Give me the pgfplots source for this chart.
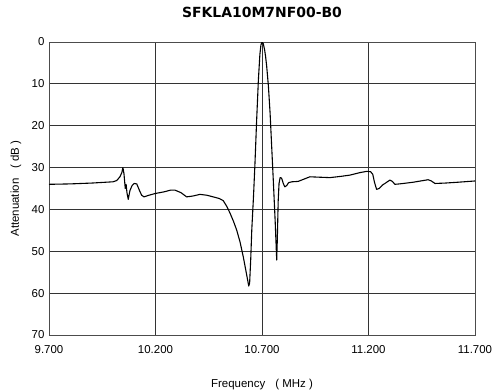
\documentclass[border=0pt]{standalone}
\usepackage{pgfplots}
\pgfplotsset{compat=1.18}
\usepackage{fontspec}
\setmainfont{Liberation Sans}
\newfontfamily\titlefont{DejaVu Sans}

\pgfplotstableread{
f A
9.700 34.0
9.800 33.9
9.900 33.7
10.000 33.4
10.018 33.1
10.033 32.2
10.042 31.2
10.047 30.0
10.052 31.5
10.058 35.0
10.062 34.0
10.066 36.0
10.072 37.6
10.080 35.5
10.090 34.3
10.100 33.8
10.112 33.9
10.125 35.5
10.135 36.6
10.146 37.0
10.170 36.6
10.198 36.2
10.240 35.8
10.270 35.4
10.292 35.4
10.320 36.0
10.346 37.0
10.375 36.8
10.409 36.4
10.440 36.6
10.471 37.0
10.500 37.4
10.518 37.9
10.535 39.3
10.550 40.9
10.565 42.7
10.581 44.9
10.597 47.8
10.612 51.3
10.625 54.8
10.633 57.0
10.638 58.3
10.642 57.5
10.647 52.0
10.652 44.9
10.660 37.0
10.667 29.0
10.675 18.5
10.683 9.1
10.690 3.0
10.695 0.7
10.700 0.0
10.706 0.4
10.712 1.8
10.717 3.5
10.722 5.8
10.730 10.5
10.738 17.0
10.745 24.5
10.753 33.0
10.762 43.0
10.769 52.1
10.772 47.0
10.776 38.0
10.780 33.8
10.785 32.4
10.792 32.5
10.800 33.8
10.807 34.6
10.816 34.3
10.825 33.6
10.840 33.4
10.870 33.3
10.900 32.7
10.925 32.2
10.970 32.3
11.019 32.4
11.070 32.1
11.113 31.8
11.160 31.2
11.192 30.9
11.210 31.0
11.220 31.6
11.228 33.5
11.238 35.2
11.250 35.0
11.265 34.2
11.280 33.7
11.300 33.0
11.312 33.3
11.324 34.0
11.345 33.9
11.363 33.8
11.410 33.5
11.457 33.1
11.480 32.9
11.495 33.2
11.512 33.8
11.560 33.7
11.620 33.5
11.700 33.2
}\response

\begin{document}
\begin{tikzpicture}
\begin{axis}[
    scale only axis,
    width=426bp, height=293bp,
    xmin=9.7, xmax=11.7,
    ymin=0, ymax=70,
    y dir=reverse,
    xtick={9.7,10.2,10.7,11.2,11.7},
    xticklabels={9.700,10.200,10.700,11.200,11.700},
    ytick={0,10,...,70},
    tick style={draw=none},
    grid=major,
    major grid style={black!80, line width=0.75pt},
    axis line style={black!70, line width=0.8pt},
    /pgf/number format/assume math mode=true,
    ticklabel style={font=\fontsize{11.5}{13}\selectfont},
    xticklabel style={anchor=north, yshift=-7bp},
    yticklabel style={anchor=east, xshift=-1bp},
    xlabel={Frequency\hspace{10bp}( MHz )},
    ylabel={Attenuation\hspace{10bp}( dB )},
    label style={font=\fontsize{11.5}{13}\selectfont},
    xlabel style={at={(axis description cs:0.5,0)}, anchor=center, yshift=-50bp},
    ylabel style={at={(axis description cs:-0.0775,0.5)}, anchor=center},
    title={\titlefont\bfseries SFKLA10M7NF00-B0},
    title style={at={(axis description cs:0.5,1)}, anchor=center, yshift=24bp,
                 font=\fontsize{14}{16}\selectfont},
]
\addplot[black, line width=1.1pt, line join=round] table[x=f, y=A] {\response};
\end{axis}
\pgfresetboundingbox
\path[use as bounding box] ([shift={(-49bp,-55bp)}]current axis.south west)
    rectangle ([shift={(19bp,42bp)}]current axis.north east);
\end{tikzpicture}
\end{document}
